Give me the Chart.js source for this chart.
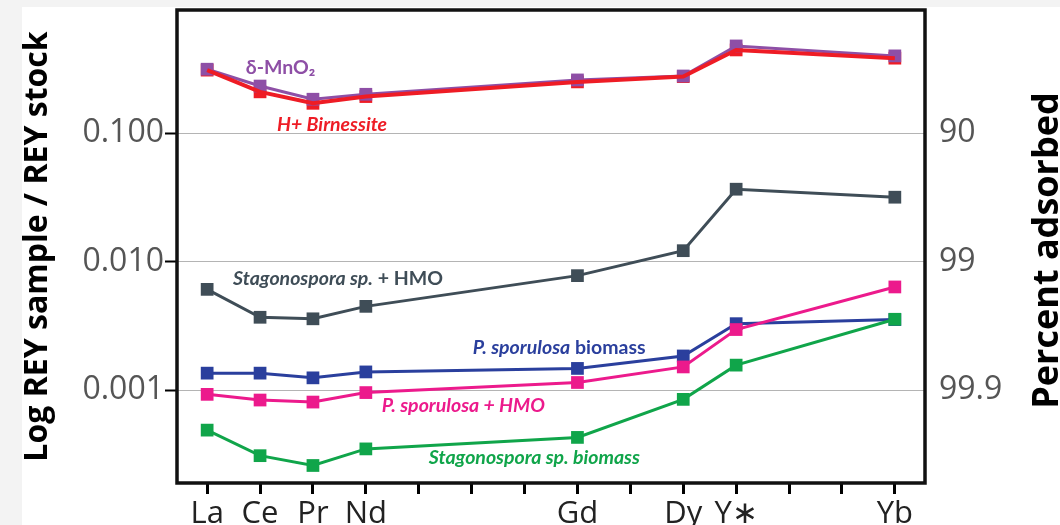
<!DOCTYPE html>
<html>
<head>
<meta charset="utf-8">
<script src="https://cdn.jsdelivr.net/npm/chart.js@4.4.0/dist/chart.umd.min.js"></script>
<style>
  html, body { margin: 0; padding: 0; width: 1060px; height: 525px; overflow: hidden; background: #f3f3f3; }
  #panel { position: absolute; left: 22px; top: 7px; width: 1038px; height: 518px; background: #fff; }
  canvas { display: block; }
</style>
</head>
<body>
<div id="panel"><canvas id="reyChart" width="1038" height="518"></canvas></div>
<script>
// Elements on the x axis, placed by atomic number (Y plotted in the Ho slot)
const elementos = ["La", "Ce", "Pr", "Nd", "Gd", "Dy", "Y∗", "Yb"];
const posiciones = [57, 58, 59, 60, 64, 66, 67, 70];
const marcasX = [57, 58, 59, 60, 61, 62, 63, 64, 65, 66, 67, 68, 69, 70];

// Log REY sample / REY stock
const deltaMnO2 = [0.315, 0.233, 0.184, 0.201, 0.260, 0.279, 0.478, 0.400];
const hBirnessite = [0.310, 0.210, 0.171, 0.193, 0.251, 0.276, 0.445, 0.384];
const stagHMO = [0.0061, 0.0037, 0.0036, 0.0045, 0.0078, 0.0122, 0.0367, 0.0318];
const psporBiomass = [0.00136, 0.00136, 0.00125, 0.00139, 0.00148, 0.00185, 0.0033, 0.00355];
const psporHMO = [0.00093, 0.00084, 0.00081, 0.00096, 0.00115, 0.00152, 0.00297, 0.00637];
const stagBiomass = [0.00049, 0.00031, 0.00026, 0.00035, 0.00043, 0.00085, 0.00157, 0.00357];

// Axis ticks
const marcasY = [0.1, 0.01, 0.001];
const etiquetasIzq = ["0.100", "0.010", "0.001"];
const etiquetasDer = ["90", "99", "99.9"];

const puntos = (arr) => posiciones.map((x, i) => ({ x: x, y: arr[i] }));

// Series labels written inside the plot (anchor in data units)
const notas = [
  { partes: [["δ-MnO₂", false]], color: "#8e4fa6", en: [57.73, 0.322] },
  { partes: [["H+ Birnessite", true]], color: "#ee1c25", en: [58.32, 0.116] },
  { partes: [["Stagonospora sp.", true], [" + HMO", false]], color: "#3f4d57", en: [57.49, 0.00735] },
  { partes: [["P. sporulosa", true], [" biomass", false]], color: "#2a3f9d", en: [62.02, 0.00214] },
  { partes: [["P. sporulosa + HMO", true]], color: "#ec1a8c", en: [60.30, 0.000764] },
  { partes: [["Stagonospora sp. biomass", true]], color: "#10a54a", en: [61.19, 0.000301] }
];

const notasPlugin = {
  id: "notas",
  afterDatasetsDraw(chart) {
    const ctx = chart.ctx;
    const sx = chart.scales.x, sy = chart.scales.y;
    ctx.save();
    ctx.textBaseline = "middle";
    ctx.textAlign = "left";
    notas.forEach((n) => {
      let x = sx.getPixelForValue(n.en[0]);
      const y = sy.getPixelForValue(n.en[1]);
      ctx.fillStyle = n.color;
      n.partes.forEach(([txt, it]) => {
        ctx.font = (it ? "italic " : "") + "bold 19.5px Lato";
        ctx.fillText(txt, x, y);
        x += ctx.measureText(txt).width;
      });
    });
    ctx.restore();
  }
};

const marcoPlugin = {
  id: "marco",
  afterDatasetsDraw(chart) {
    const { ctx, chartArea: a } = chart;
    ctx.save();
    ctx.strokeStyle = "#111";
    ctx.lineWidth = 3.5;
    ctx.strokeRect(a.left, a.top, a.right - a.left, a.bottom - a.top);
    ctx.restore();
  }
};

// right-hand title reads bottom-to-top, so it is drawn here
const tituloDerPlugin = {
  id: "tituloDer",
  afterDraw(chart) {
    const ctx = chart.ctx;
    const a = chart.chartArea;
    ctx.save();
    ctx.translate(1036, (a.top + a.bottom) / 2 + 4);
    ctx.rotate(-Math.PI / 2);
    ctx.textAlign = "center";
    ctx.textBaseline = "alphabetic";
    ctx.fillStyle = "#000";
    ctx.font = "bold 36px 'Open Sans'";
    ctx.fillText("Percent adsorbed", 0, 0);
    ctx.restore();
  }
};

const serie = (arr, color, extra) => Object.assign({
  data: puntos(arr),
  borderColor: color,
  backgroundColor: color,
  borderWidth: 3,
  pointStyle: "rect",
  pointRadius: 9,
  pointBorderWidth: 0,
  tension: 0
}, extra);

// no overhang padding for the labels, the plot area is fixed by hand
const sinRelleno = (s) => { s.paddingTop = 0; s.paddingBottom = 0; s.paddingLeft = 0; s.paddingRight = 0; };

const yMin = 1.9e-4, yMax = 0.91;

new Chart(document.getElementById("reyChart").getContext("2d"), {
  type: "line",
  data: {
    datasets: [
      serie(stagBiomass, "#10a54a", { order: 1 }),
      serie(psporHMO, "#ec1a8c", { order: 2 }),
      serie(psporBiomass, "#2a3f9d", { order: 3 }),
      serie(stagHMO, "#3f4d57", { order: 4 }),
      serie(hBirnessite, "#ee1c25", { order: 5, pointRadius: 0, borderWidth: 4 }),
      serie(deltaMnO2, "#8e4fa6", { order: 6 }),
      serie(hBirnessite, "#ee1c25", { order: 7, showLine: false })
    ]
  },
  options: {
    responsive: false,
    animation: false,
    layout: { autoPadding: false, padding: { left: 0, right: 0, top: 3, bottom: 0 } },
    plugins: { legend: { display: false }, tooltip: { enabled: false } },
    scales: {
      x: {
        type: "linear",
        position: "bottom",
        min: 56.43,
        max: 70.57,
        afterBuildTicks: (s) => { s.ticks = marcasX.map((v) => ({ value: v })); },
        afterFit: (s) => { s.height = 42; sinRelleno(s); },
        ticks: {
          autoSkip: false,
          maxRotation: 0,
          padding: 2,
          color: "#222",
          font: { family: "Open Sans", size: 31 },
          callback: (v) => {
            const i = posiciones.indexOf(v);
            return i >= 0 ? elementos[i] : "";
          }
        },
        grid: { drawOnChartArea: false, tickLength: 11, tickWidth: 3, tickColor: "#000" },
        border: { display: false }
      },
      y: {
        type: "logarithmic",
        position: "left",
        min: yMin,
        max: yMax,
        afterBuildTicks: (s) => { s.ticks = marcasY.map((v) => ({ value: v })); },
        afterFit: (s) => { s.width = 155; sinRelleno(s); },
        ticks: {
          padding: 1,
          color: "#555",
          font: { family: "Open Sans", size: 32 },
          callback: (v, i) => etiquetasIzq[i]
        },
        grid: { color: "#b4b4b4", lineWidth: 1, tickLength: 12, tickWidth: 2, tickColor: "#000" },
        border: { display: false },
        title: {
          display: true,
          text: "Log REY sample / REY stock",
          color: "#000",
          font: { family: "Open Sans", size: 32, weight: "bold", lineHeight: 1 },
          padding: { top: 0, bottom: 0 }
        }
      },
      y2: {
        type: "logarithmic",
        position: "right",
        min: yMin,
        max: yMax,
        afterBuildTicks: (s) => { s.ticks = marcasY.map((v) => ({ value: v })); },
        afterFit: (s) => { s.width = 135; sinRelleno(s); },
        ticks: {
          padding: 14,
          color: "#555",
          font: { family: "Open Sans", size: 32 },
          callback: (v, i) => etiquetasDer[i]
        },
        grid: { drawOnChartArea: false, drawTicks: false },
        border: { display: false }
      }
    }
  },
  plugins: [notasPlugin, marcoPlugin, tituloDerPlugin]
});
</script>
</body>
</html>
